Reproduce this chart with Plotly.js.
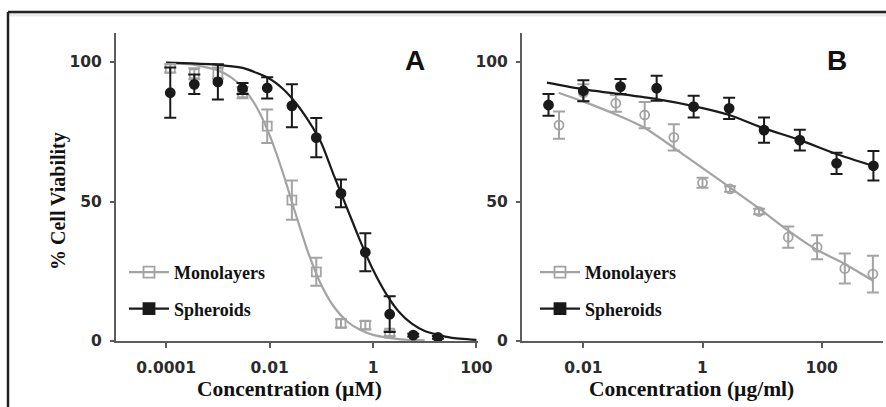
<!DOCTYPE html>
<html><head><meta charset="utf-8">
<script src="https://cdn.plot.ly/plotly-3.0.1.min.js"></script>
<style>html,body{margin:0;padding:0;background:#fff}#chart{width:886px;height:407px}</style>
</head><body><div id="chart"></div><script>
// ---- Panel A data (µM) ----
const concA_mono = [0.00012, 0.00035, 0.001, 0.003, 0.009, 0.027, 0.08, 0.24, 0.71, 2.1];
const viabA_mono = [97.7, 95.8, 96, 89, 77, 50.5, 24.8, 6.3, 5.7, 2.8];
const errA_mono  = [1.5, 2, 2, 2, 6, 7, 5, 1.5, 1.5, 1];
const concA_sph  = [0.00012, 0.00035, 0.001, 0.003, 0.009, 0.027, 0.08, 0.24, 0.71, 2.1, 6, 18];
const viabA_sph  = [89, 92, 92.9, 90.5, 90.7, 84.3, 72.9, 52.9, 31.8, 9.6, 2.1, 1.3];
const errA_sph   = [9, 3.5, 6.3, 2, 3.8, 7.7, 7, 5, 6.8, 6.4, 0.5, 0.5];
// fitted curves
const fitA_sph_x = [1e-4, 3.16e-4, 1e-3, 3.16e-3, 1e-2, 1.78e-2, 3.16e-2, 5.62e-2, 0.1, 0.178, 0.316, 0.562, 1, 1.78, 3.16, 5.62, 10, 31.6, 100];
const fitA_sph_y = [99.8, 99.5, 99, 97.8, 94, 90.5, 85.5, 79, 71, 59, 47.5, 36, 25.5, 17, 10.5, 6.2, 3.6, 1.2, 0.4];
const fitA_mono_x = [1e-4, 3.16e-4, 1e-3, 1.78e-3, 3.16e-3, 5.62e-3, 1e-2, 1.78e-2, 3.16e-2, 5.62e-2, 0.1, 0.178, 0.316, 0.562, 1, 3.16, 10];
const fitA_mono_y = [99.7, 99.1, 97, 94.6, 90.5, 83.8, 73.8, 60.7, 45.8, 31.5, 20.1, 12.1, 7, 4, 2.2, 0.7, 0.2];
const ticksA_vals = [1e-4, 1e-2, 1, 100];
const ticksA_text = ['0.0001', '0.01', '1', '100'];

// ---- Panel B data (µg/ml) ----
const concB_mono = [0.0039, 0.01, 0.035, 0.107, 0.33, 1, 2.9, 8.9, 27.5, 84, 245, 725];
const viabB_mono = [77.4, 89, 85.2, 81, 73, 56.7, 54.5, 46.4, 37.2, 33.6, 26, 24];
const errB_mono  = [4.9, 3, 3, 4.7, 4.7, 1.8, 1, 1, 3.8, 4.3, 5.4, 6.6];
const concB_sph  = [0.0026, 0.01, 0.042, 0.17, 0.71, 2.8, 10.8, 43, 178, 740];
const viabB_sph  = [84.6, 89.7, 91.2, 90.6, 84, 83.4, 75.6, 72, 63.7, 62.8];
const errB_sph   = [3.9, 3.8, 2.7, 4.5, 3.9, 3.8, 4.5, 3.7, 3.8, 5.3];
const fitB_sph_x = [0.00245, 0.01, 0.0417, 0.17, 0.708, 2.82, 10.7, 43.7, 178, 741];
const fitB_sph_y = [92.6, 90.2, 88.5, 86.7, 84.2, 81, 76.2, 72, 67, 62.7];
const fitB_mono_x = [0.00385, 0.0101, 0.0368, 0.103, 0.31, 0.925, 2.77, 8.83, 26.5, 79.3, 237, 667, 748];
const fitB_mono_y = [89, 85.8, 81, 76.6, 69.7, 62.5, 55.3, 47.6, 39.8, 32.9, 27.8, 22.1, 21.5];
const ticksB_vals = [0.01, 1, 100];
const ticksB_text = ['0.01', '1', '100'];

const ticksY = [0, 50, 100];
const seriesNames = ['Monolayers', 'Spheroids'];

const GRAY = '#a3a3a3', BLACK = '#1a1a1a', AXIS = '#5c5c5c';
const W = 886, H = 407;
const px = v => v / W, py = v => 1 - v / H;

function curve(x, y, color, xa, ya) {
  return {x, y, mode: 'lines', line: {color, width: 2.2, shape: 'spline', smoothing: 0.6},
    xaxis: xa, yaxis: ya, showlegend: false, hoverinfo: 'skip', cliponaxis: false};
}
function pts(x, y, e, color, symbol, size, xa, ya) {
  return {x, y, mode: 'markers', xaxis: xa, yaxis: ya, showlegend: false, cliponaxis: false,
    error_y: {type: 'data', array: e, visible: true, color, thickness: 2, width: 6},
    marker: {symbol, size, color, line: {color, width: 1.8}}};
}
function legItem(name, color, symbol, leg, grp) {
  return {x: [null], y: [null], mode: 'lines+markers', name, legend: leg, legendgroup: grp,
    line: {color, width: 2.2}, marker: {symbol, size: 11, color, line: {color, width: 1.8}},
    xaxis: 'x', yaxis: 'y'};
}

const data = [
  curve(fitA_mono_x, fitA_mono_y, GRAY, 'x', 'y'),
  curve(fitA_sph_x, fitA_sph_y, BLACK, 'x', 'y'),
  pts(concA_mono, viabA_mono, errA_mono, GRAY, 'square-open', 9, 'x', 'y'),
  pts(concA_sph, viabA_sph, errA_sph, BLACK, 'circle', 9, 'x', 'y'),
  curve(fitB_mono_x, fitB_mono_y, GRAY, 'x2', 'y2'),
  curve(fitB_sph_x, fitB_sph_y, BLACK, 'x2', 'y2'),
  pts(concB_mono, viabB_mono, errB_mono, GRAY, 'circle-open', 9, 'x2', 'y2'),
  pts(concB_sph, viabB_sph, errB_sph, BLACK, 'circle', 9, 'x2', 'y2'),
  legItem(seriesNames[0], GRAY, 'square-open', 'legend', 'a1'),
  legItem(seriesNames[1], BLACK, 'square', 'legend', 'a2'),
  legItem(seriesNames[0], GRAY, 'square-open', 'legend2', 'b1'),
  legItem(seriesNames[1], BLACK, 'square', 'legend2', 'b2')
];

const tickFont = {family: 'DejaVu Sans', size: 15.5, color: '#2b2b2b', weight: 'bold'};
const serif = {family: 'Liberation Serif', color: '#111', weight: 'bold'};
function xax(domain, range, vals, text) {
  return {type: 'log', domain, range, tickvals: vals, ticktext: text, ticks: 'outside', ticklen: 5,
    tickwidth: 2, tickcolor: AXIS, showline: true, linecolor: AXIS, linewidth: 2, showgrid: false,
    zeroline: false, tickfont: tickFont, ticklabelstandoff: 6, fixedrange: true};
}
function yax(domain, anchor) {
  return {domain, range: [0, 110.4], tickvals: ticksY, ticks: 'outside', ticklen: 4, tickwidth: 2,
    tickcolor: AXIS, showline: true, linecolor: AXIS, linewidth: 2, showgrid: false, zeroline: false,
    tickfont: tickFont, anchor, ticklabelstandoff: 5, fixedrange: true};
}
const legBase = {font: Object.assign({size: 18}, serif), bgcolor: 'rgba(0,0,0,0)', borderwidth: 0,
  xanchor: 'left', yanchor: 'top', tracegroupgap: 10, itemwidth: 40, traceorder: 'grouped'};

const layout = {
  width: W, height: H, margin: {l: 0, r: 0, t: 0, b: 0},
  paper_bgcolor: '#fff', plot_bgcolor: '#fff', showlegend: true,
  xaxis: xax([px(116), px(478)], [-4.97, 2.03], ticksA_vals, ticksA_text),
  yaxis: yax([py(341), py(33)], 'x'),
  xaxis2: xax([px(522), px(883)], [-3.03, 3.03], ticksB_vals, ticksB_text),
  yaxis2: yax([py(341), py(33)], 'x2'),
  legend: Object.assign({x: px(124), y: py(254)}, legBase),
  legend2: Object.assign({x: px(535), y: py(254)}, legBase),
  annotations: [
    {text: '% Cell Viability', x: px(59), y: py(201), xref: 'paper', yref: 'paper', textangle: -90,
      showarrow: false, font: Object.assign({size: 20}, serif), xanchor: 'center', yanchor: 'middle'},
    {text: 'Concentration (µM)', x: px(289), y: py(389), xref: 'paper', yref: 'paper',
      showarrow: false, font: Object.assign({size: 21.5}, serif), xanchor: 'center', yanchor: 'middle'},
    {text: 'Concentration (µg/ml)', x: px(691), y: py(389), xref: 'paper', yref: 'paper',
      showarrow: false, font: Object.assign({size: 21.5}, serif), xanchor: 'center', yanchor: 'middle'},
    {text: 'A', x: px(415), y: py(61), xref: 'paper', yref: 'paper', showarrow: false,
      font: {family: 'Liberation Sans', size: 28, color: '#111', weight: 'bold'}, xanchor: 'center', yanchor: 'middle'},
    {text: 'B', x: px(837), y: py(61), xref: 'paper', yref: 'paper', showarrow: false,
      font: {family: 'Liberation Sans', size: 28, color: '#111', weight: 'bold'}, xanchor: 'center', yanchor: 'middle'}
  ],
  shapes: [
    {type: 'rect', xref: 'paper', yref: 'paper', x0: px(9), x1: 1, y0: py(16.5), y1: py(13), fillcolor: '#e9e9e9', line: {width: 0}, layer: 'below'},
    {type: 'line', xref: 'paper', yref: 'paper', x0: px(8), x1: 1, y0: py(12), y1: py(12), line: {color: '#222', width: 2.5}},
    {type: 'line', xref: 'paper', yref: 'paper', x0: px(8), x1: px(8), y0: py(12), y1: 0, line: {color: '#222', width: 2.5}}
  ]
};

Plotly.newPlot('chart', data, layout, {staticPlot: true, displayModeBar: false});
</script></body></html>
